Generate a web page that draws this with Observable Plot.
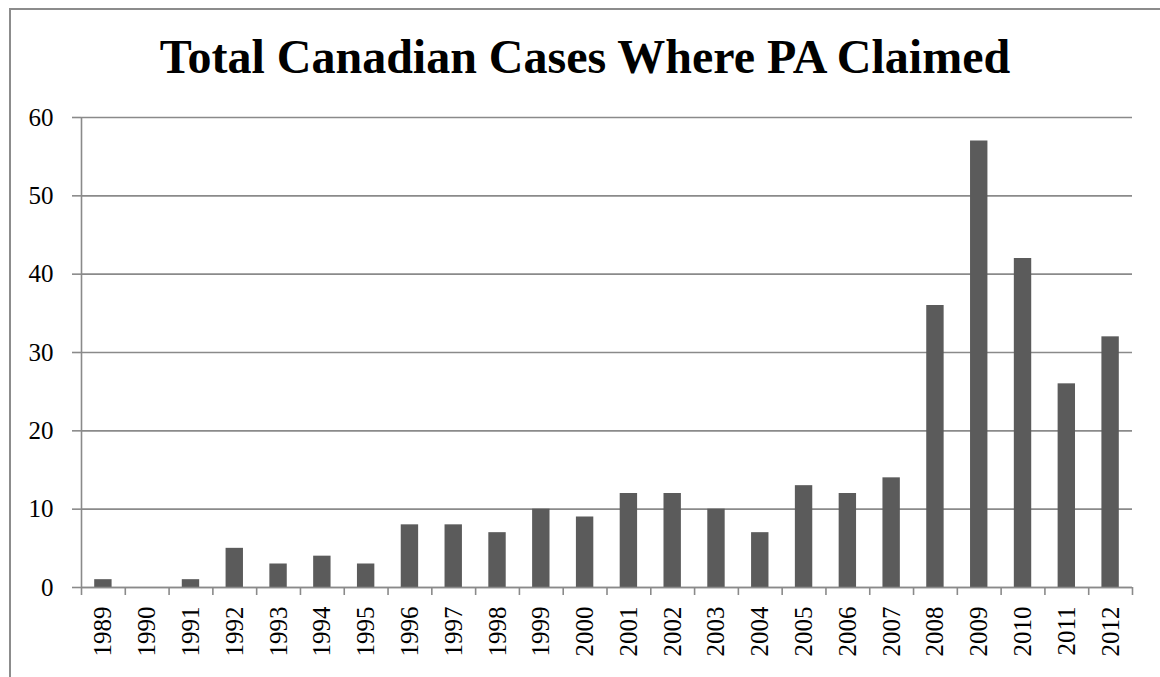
<!DOCTYPE html>
<html>
<head>
<meta charset="utf-8">
<script src="https://cdn.jsdelivr.net/npm/d3@7"></script>
<script src="https://cdn.jsdelivr.net/npm/@observablehq/plot@0.6"></script>
<style>
  html, body { margin: 0; padding: 0; background: #fff; width: 1160px; height: 677px; overflow: hidden; }
  #frame { position: absolute; left: 9px; top: 8px; width: 1200px; height: 720px; border: 2.5px solid #8c8c8c; box-sizing: border-box; }
  #title { position: absolute; left: 0; top: 33px; width: 1170px; text-align: center; font-family: "Liberation Serif", serif; font-weight: bold; font-size: 48px; line-height: 1; color: #000; }
  #chart { position: absolute; left: 0; top: 0; }
</style>
</head>
<body>
<div id="frame"></div>
<div id="title">Total Canadian Cases Where PA Claimed</div>
<div id="chart"></div>
<script>
const years = ["1989","1990","1991","1992","1993","1994","1995","1996","1997","1998","1999","2000","2001","2002","2003","2004","2005","2006","2007","2008","2009","2010","2011","2012"];
const cases = [1,0,1,5,3,4,3,8,8,7,10,9,12,12,10,7,13,12,14,36,57,42,26,32];
const yTicks = [0,10,20,30,40,50,60];

const data = years.map((y, i) => ({year: y, i, value: cases[i]}));
const boundaries = d3.range(years.length + 1);
const centers = years.map((_, i) => i + 0.5);

const gray = "#8a8a8a";
const chart = Plot.plot({
  width: 1160,
  height: 677,
  marginLeft: 81,
  marginRight: 28,
  marginTop: 117,
  marginBottom: 90,
  x: {domain: [0, years.length], axis: null, label: null},
  y: {domain: [0, 60], axis: null, label: null},
  style: {fontFamily: "Liberation Serif", fontSize: "25px", background: "transparent", color: "#000"},
  marks: [
    Plot.gridY(yTicks, {stroke: gray, strokeOpacity: 1, strokeWidth: 1.6}),
    Plot.axisY(yTicks, {tickSize: 9, tickPadding: 19, stroke: gray, strokeWidth: 1.6, fontSize: 25, fill: "#000", label: null}),
    Plot.rectY(data, {x1: "i", x2: d => d.i + 1, y1: 0, y2: "value", fill: "#5b5b5b", insetLeft: 13.2, insetRight: 13.2}),
    Plot.ruleX([0], {stroke: gray, strokeWidth: 1.6}),
    Plot.ruleY([0], {stroke: gray, strokeWidth: 1.6}),
    Plot.axisX(boundaries, {tickSize: 8, tickFormat: () => "", stroke: gray, strokeWidth: 1.6, label: null}),
    Plot.axisX(centers, {tickSize: 0, tickPadding: 19, tickRotate: -90, tickFormat: (d) => years[Math.floor(d)], fontSize: 25, fill: "#000", label: null})
  ]
});
document.getElementById("chart").appendChild(chart);
</script>
</body>
</html>
